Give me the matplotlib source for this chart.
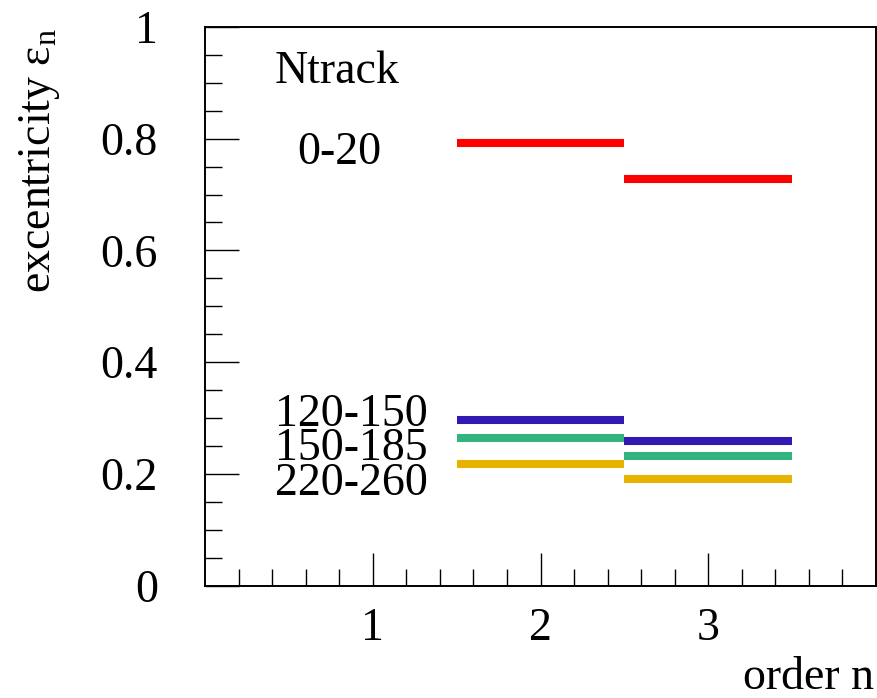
import matplotlib
matplotlib.use("Agg")
import matplotlib.pyplot as plt
from matplotlib.ticker import FixedLocator, MultipleLocator
import numpy as np

plt.rcParams['font.family'] = ['Liberation Serif', 'DejaVu Serif']
plt.rcParams['mathtext.fontset'] = 'custom'
plt.rcParams['mathtext.rm'] = 'Liberation Serif'
plt.rcParams['mathtext.it'] = 'Liberation Serif'

# Eccentricity per harmonic order n, for each Ntrack multiplicity class
orders = [2, 3]
classes = ["0-20", "120-150", "150-185", "220-260"]
ecc_0_20 = [0.793, 0.727]
ecc_120_150 = [0.296, 0.258]
ecc_150_185 = [0.264, 0.232]
ecc_220_260 = [0.217, 0.190]
colors = ["#ff0000", "#3319b3", "#33b380", "#e6b300"]

series = [ecc_0_20, ecc_120_150, ecc_150_185, ecc_220_260]

W, H, DPI = 877, 698, 100
fig = plt.figure(figsize=(W / DPI, H / DPI), dpi=DPI)
ax = fig.add_axes([205 / W, 1 - 585.5 / H, (876 - 205) / W, (585.5 - 27) / H])

FS = 33

# each value spans its order bin [n-0.5, n+0.5]
for vals, col in zip(series, colors):
    for n, v in zip(orders, vals):
        ax.hlines(v, n - 0.5, n + 0.5, color=col, linewidth=5.8, capstyle='butt')

ax.set_xlim(0, 4)
ax.set_ylim(0, 1)

ax.xaxis.set_major_locator(FixedLocator([1, 2, 3]))
ax.xaxis.set_minor_locator(FixedLocator([x for x in np.arange(0.2, 4.0, 0.2)
                                         if abs(x - round(x)) > 1e-6]))
ax.yaxis.set_minor_locator(MultipleLocator(0.05))
ax.set_yticks([0, 0.2, 0.4, 0.6, 0.8, 1.0])
ax.set_yticklabels(["0", "0.2", "0.4", "0.6", "0.8", "1"])

ax.tick_params(axis='x', which='major', direction='in', length=24, width=1,
               labelsize=FS, pad=16, top=False)
ax.tick_params(axis='x', which='minor', direction='in', length=12, width=1, top=False)
ax.tick_params(axis='y', which='major', direction='in', length=24.5, width=1,
               labelsize=FS, pad=34, right=False)
ax.tick_params(axis='y', which='minor', direction='in', length=12.5, width=1, right=False)

for s in ax.spines.values():
    s.set_linewidth(1.4)
    s.set_color('black')

# annotations
ax.text(0.79, 0.92, "Ntrack", fontsize=FS, ha='center', va='center')
ax.text(0.80, 0.775, classes[0], fontsize=FS, ha='center', va='center')
ax.text(0.87, 0.305, classes[1], fontsize=FS, ha='center', va='center')
ax.text(0.87, 0.245, classes[2], fontsize=FS, ha='center', va='center')
ax.text(0.87, 0.183, classes[3], fontsize=FS, ha='center', va='center')

fig.text(40 / W, 1 - 28 / H, r"excentricity $\mathrm{\varepsilon_{n}}$", fontsize=FS,
         rotation=90, ha='center', va='top')
fig.text(874 / W, 1 - 689 / H, "order n", fontsize=FS, ha='right', va='baseline')

fig.savefig("out.png", dpi=DPI)
